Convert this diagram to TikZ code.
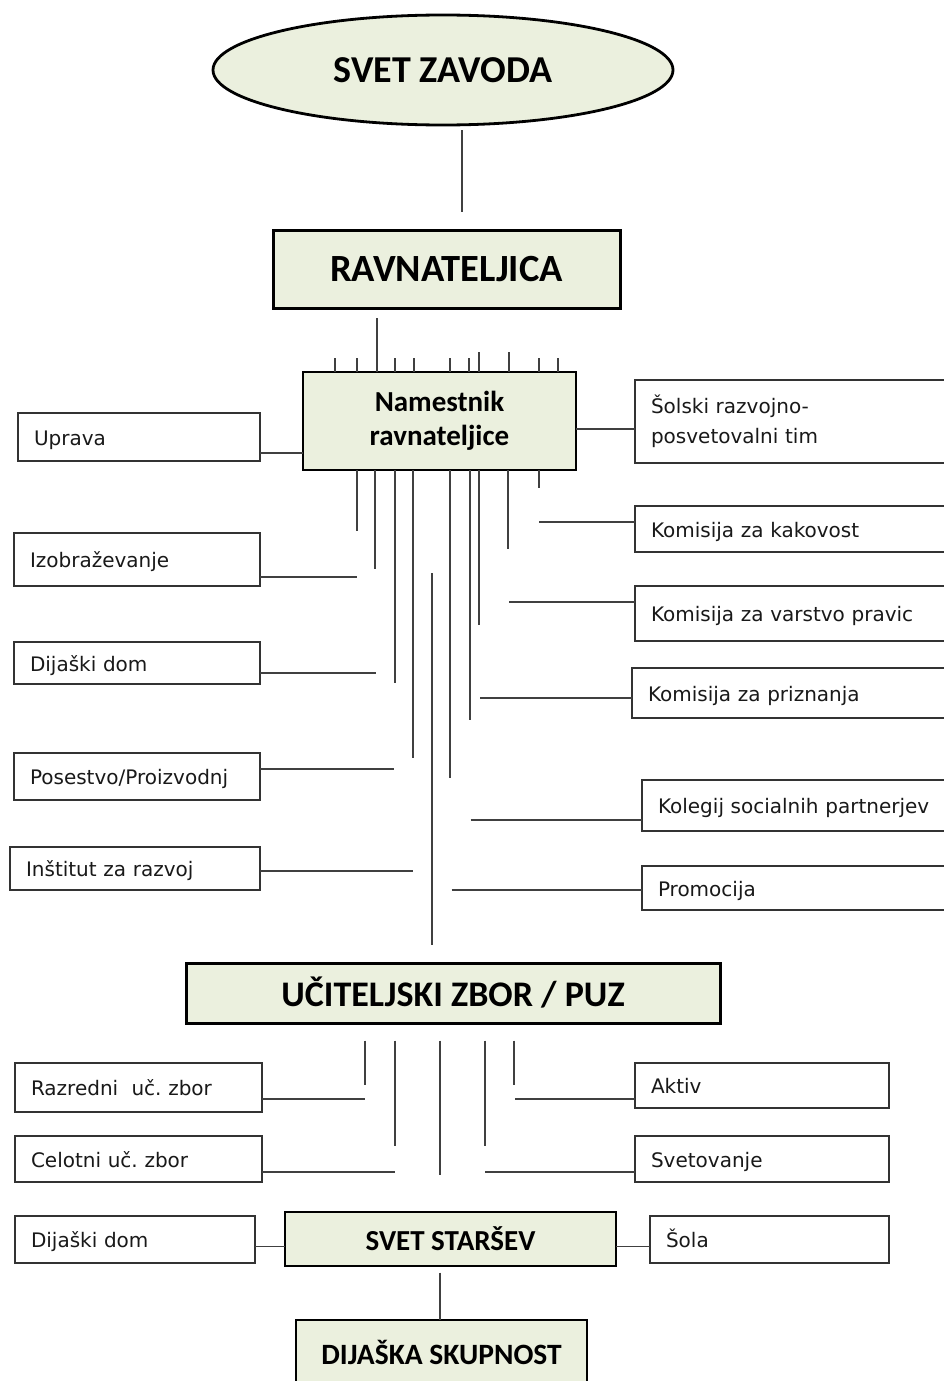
\documentclass[tikz,border=0pt]{standalone}
\usepackage{fontspec}
\setmainfont{DejaVu Sans}
\newfontfamily\hdfont{Carlito}
\usetikzlibrary{shapes.geometric}
\frenchspacing
\definecolor{boxfill}{HTML}{EBF0DE}
\definecolor{edge}{HTML}{333333}
\definecolor{conn}{HTML}{404040}
\tikzset{
  mainbox/.style={draw=black, line width=3pt, fill=boxfill, inner sep=0pt, outer sep=0pt, align=center},
  lblbase/.style={draw=edge, line width=1.9pt, fill=white, text=black!90, font=\fontsize{20}{30}\selectfont, align=left,
    inner xsep=16pt, inner ysep=0pt, outer sep=0pt, anchor=north west},
  lbl/.style={lblbase, text height=16pt, text depth=0pt},
  conline/.style={draw=conn, line width=1.8pt},
  hdA/.style={font=\hdfont\bfseries\fontsize{38}{40}\selectfont},
}
\begin{document}
\begin{tikzpicture}[x=1pt,y=-1pt]
\useasboundingbox (0,0) rectangle (944,1381);
\clip (0,0) rectangle (944,1381);
\fill[white] (0,0) rectangle (944,1381);

% main nodes
\node[mainbox, ellipse, minimum width=460pt, minimum height=110pt, line width=2.8pt, hdA] (svet) at (443,70) {SVET ZAVODA};
\node[mainbox, minimum width=347pt, minimum height=78pt, font=\hdfont\bfseries\fontsize{38.5}{40}\selectfont] (ravn) at (446.5,269) {RAVNATELJICA};
\node[mainbox, minimum width=273pt, minimum height=98pt, line width=2.8pt, font=\hdfont\bfseries\fontsize{29}{34}\selectfont] (nam) at (439.5,421) {Namestnik\\ravnateljice};
\node[mainbox, minimum width=534pt, minimum height=60pt, font=\hdfont\bfseries\fontsize{36}{40}\selectfont] (ucit) at (453,993) {UČITELJSKI ZBOR / PUZ};
\node[mainbox, minimum width=331pt, minimum height=54pt, line width=2.8pt, font=\hdfont\bfseries\fontsize{29}{32}\selectfont] (ss) at (450.5,1239) {SVET STARŠEV};
\node[mainbox, minimum width=291pt, minimum height=64pt, line width=2.8pt, font=\hdfont\bfseries\fontsize{29.5}{32}\selectfont] (ds) at (441.5,1352) {DIJAŠKA SKUPNOST};

% label boxes (left)
\node[lbl, text width=210pt, minimum height=48pt] (uprava) at (18,413) {Uprava};
\node[lbl, text width=214pt, minimum height=53pt] (izo) at (14,533) {Izobraževanje};
\node[lbl, text width=214pt, minimum height=42pt] (domA) at (14,642) {Dijaški dom};
\node[lbl, text width=214pt, minimum height=47pt] (pos) at (14,753) {Posestvo/Proizvodnj};
\node[lbl, text width=218pt, minimum height=43pt] (inst) at (10,847) {Inštitut za razvoj};
% label boxes (right)
\node[lblbase, text width=298pt, minimum height=83pt] (sol) at (635,380) {Šolski razvojno-\\posvetovalni tim};
\node[lbl, text width=298pt, minimum height=46pt] (kak) at (635,506) {Komisija za kakovost};
\node[lbl, text width=298pt, minimum height=55pt] (var) at (635,586) {Komisija za varstvo pravic};
\node[lbl, text width=298pt, minimum height=50pt] (pri) at (632,668) {Komisija za priznanja};
\node[lbl, text width=298pt, minimum height=51pt] (kol) at (642,780) {Kolegij socialnih partnerjev};
\node[lbl, text width=298pt, minimum height=44pt] (pro) at (642,866) {Promocija};
% label boxes (bottom)
\node[lbl, text width=215pt, minimum height=49pt] (raz) at (15,1063) {Razredni\ \ uč. zbor};
\node[lbl, text width=215pt, minimum height=46pt] (cel) at (15,1136) {Celotni uč. zbor};
\node[lbl, text width=222pt, minimum height=45pt] (akt) at (635,1063) {Aktiv};
\node[lbl, text width=222pt, minimum height=46pt] (svt) at (635,1136) {Svetovanje};
\node[lbl, text width=208pt, minimum height=47pt] (domB) at (15,1216) {Dijaški dom};
\node[lbl, text width=207pt, minimum height=47pt] (sola) at (650,1216) {Šola};

% connectors top
\draw[conline] (462,130) -- (462,212);
\draw[conline] (376.7,318) -- (nam.north -| 376.7,0);
\foreach \x in {335,357,394.7,413.7,450.3,469,539.3,558.3}
  \draw[conline] (\x,358) -- (nam.north -| \x,0);
\foreach \x in {479.3,509.3}
  \draw[conline] (\x,352) -- (nam.north -| \x,0);

% verticals below Namestnik
\foreach \x/\y in {356.7/530.7, 375.3/569.3, 394.7/682.7, 413.3/758.3, 450.3/778.3, 470/720, 479.3/625, 508.3/549.3, 539.3/488.3}
  \draw[conline] (nam.south -| \x,0) -- (\x,\y);
\draw[conline] (431.7,573.3) -- (431.7,945);

% horizontals left
\draw[conline] (uprava.east |- 0,453) -- (nam.west |- 0,453);
\draw[conline] (izo.east |- 0,577.3) -- (356.7,577.3);
\draw[conline] (domA.east |- 0,673.3) -- (375.7,673.3);
\draw[conline] (pos.east |- 0,768.7) -- (394.3,768.7);
\draw[conline] (inst.east |- 0,871.3) -- (413.3,871.3);
% horizontals right
\draw[conline] (nam.east |- 0,429.3) -- (sol.west |- 0,429.3);
\draw[conline] (539.3,521.7) -- (kak.west |- 0,521.7);
\draw[conline] (509,601.7) -- (var.west |- 0,601.7);
\draw[conline] (480,698.3) -- (pri.west |- 0,698.3);
\draw[conline] (470.7,820.3) -- (kol.west |- 0,820.3);
\draw[conline] (451.7,890) -- (pro.west |- 0,890);

% below UČITELJSKI
\foreach \x/\y in {365/1085, 395/1145.7, 440/1175, 485/1145.7, 514.3/1085}
  \draw[conline] (\x,1040.7) -- (\x,\y);
\draw[conline] (raz.east |- 0,1099) -- (365,1099);
\draw[conline] (515,1099) -- (akt.west |- 0,1099);
\draw[conline] (cel.east |- 0,1172.3) -- (395,1172.3);
\draw[conline] (485,1172.3) -- (svt.west |- 0,1172.3);

% bottom row
\draw[conline] (domB.east |- 0,1246.5) -- (ss.west |- 0,1246.5);
\draw[conline] (ss.east |- 0,1246.5) -- (sola.west |- 0,1246.5);
\draw[conline] (440,1272.7) -- (ds.north -| 440,0);
\end{tikzpicture}
\end{document}
